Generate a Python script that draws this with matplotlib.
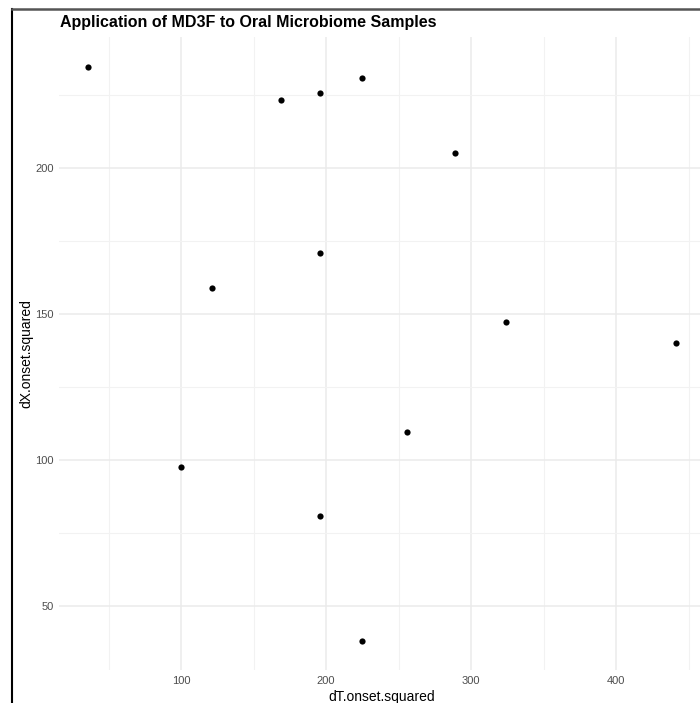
import matplotlib
matplotlib.use("Agg")
import matplotlib.pyplot as plt
from matplotlib.lines import Line2D

dT_onset_squared = [36, 100, 121, 169, 196, 196, 196, 225, 225, 256, 289, 324, 441]
dX_onset_squared = [234.5, 97.6, 158.8, 223.3, 225.7, 171.0, 80.9, 230.8, 38.2, 109.6, 205.2, 147.2, 140.0]
x_ticks = [100, 200, 300, 400]
y_ticks = [50, 100, 150, 200]
title = "Application of MD3F to Oral Microbiome Samples"
x_label = "dT.onset.squared"
y_label = "dX.onset.squared"

plt.rcParams['font.family'] = ['Liberation Sans', 'DejaVu Sans']

W, H = 700, 703
fig = plt.figure(figsize=(W / 100, H / 100), dpi=100)
fig.patch.set_facecolor('white')

left_px, right_px, top_px, bottom_px = 59, 705, 37, 670
ax = fig.add_axes([left_px / W, 1 - bottom_px / H, (right_px - left_px) / W, (bottom_px - top_px) / H])
ax.set_facecolor('white')

ax.scatter(dT_onset_squared, dX_onset_squared, s=20, color='black', linewidths=0, zorder=3)

ax.set_xlim(15.75, 461.25)
ax.set_ylim(28.15, 244.85)
ax.set_xticks(x_ticks)
ax.set_yticks(y_ticks)
ax.set_xticks([50, 150, 250, 350, 450], minor=True)
ax.set_yticks([75, 125, 175, 225], minor=True)
ax.grid(True, which='major', color='#EBEBEB', linewidth=1.1)
ax.grid(True, which='minor', color='#F2F2F2', linewidth=0.8)
ax.set_axisbelow(True)
for s in ax.spines.values():
    s.set_visible(False)
ax.tick_params(which='both', length=0)
ax.tick_params(axis='both', labelsize=8, labelcolor='#4D4D4D', pad=4)
ax.set_xlabel(x_label, fontsize=10, color='black', labelpad=3.5)
ax.set_ylabel(y_label, fontsize=10, color='black', labelpad=1)

fig.text(60 / W, 1 - 23 / H, title, fontsize=11.5, fontweight='bold', ha='left', va='center')

# screenshot border
fig.add_artist(Line2D([12 / W, 12 / W], [0, 1 - 9 / H], transform=fig.transFigure, color='black', linewidth=1.5))
fig.add_artist(Line2D([12 / W, 1], [1 - 9 / H, 1 - 9 / H], transform=fig.transFigure, color='#555555', linewidth=1.8))

fig.savefig('out.png', dpi=100)
